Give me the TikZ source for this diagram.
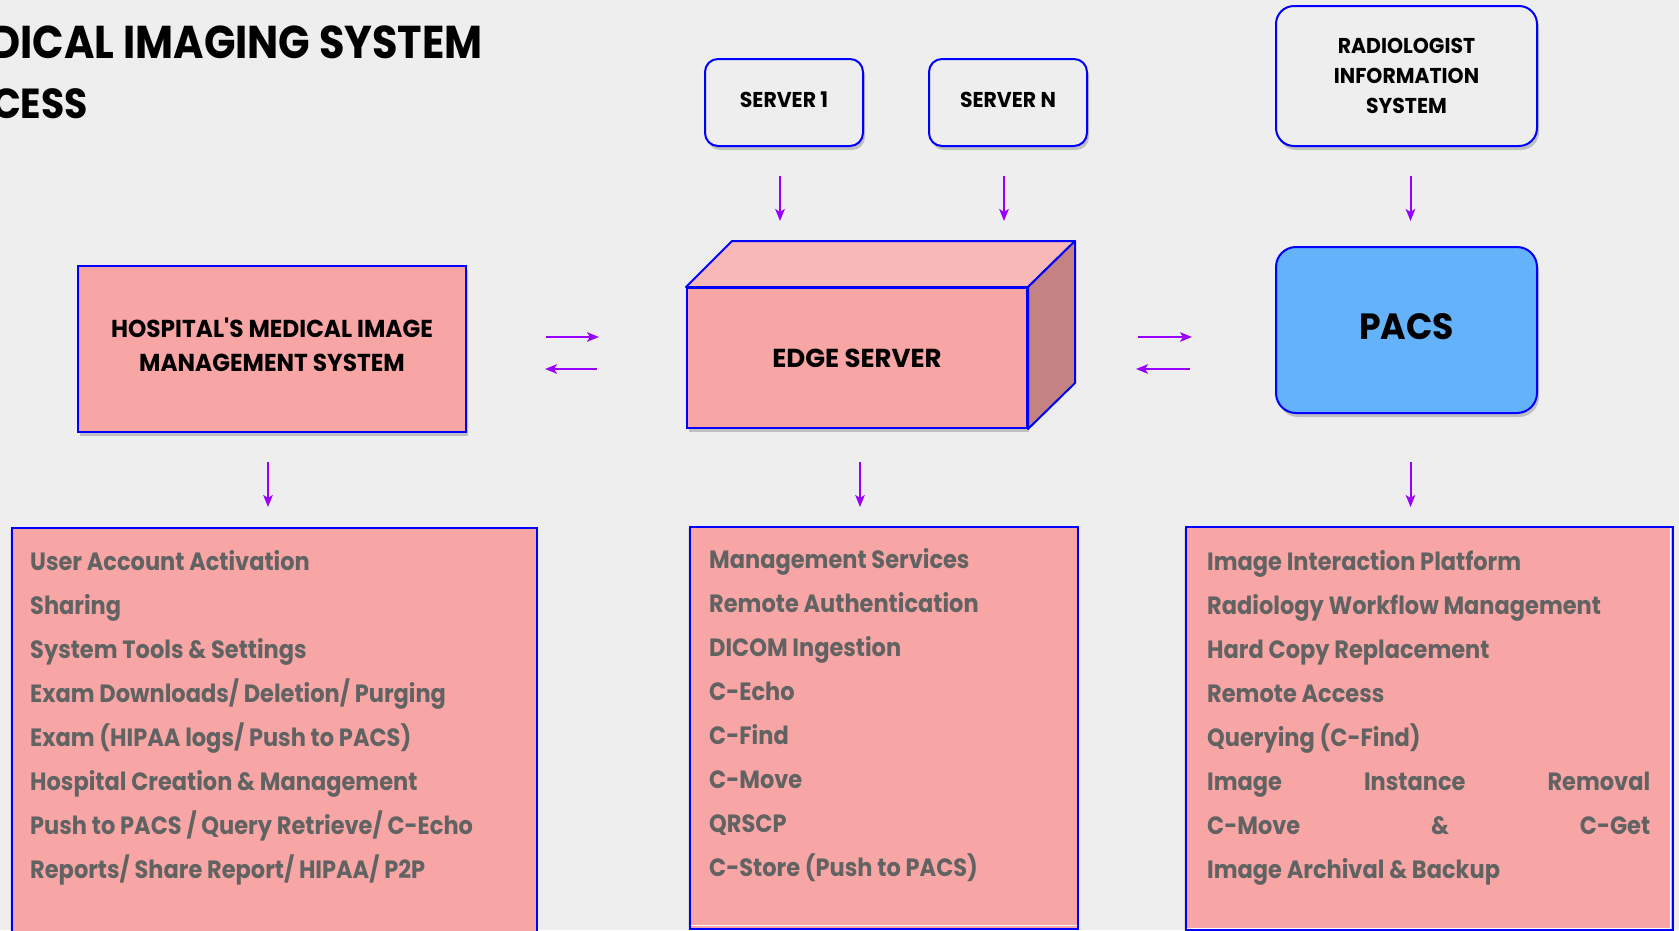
\documentclass[tikz,border=0pt]{standalone}
\usepackage{fontspec}
\setmainfont{Poppins}
\newfontfamily\gothic[FakeStretch=0.9]{Poppins}
\newfontfamily\labelfont[FakeStretch=0.95]{Poppins}
\usetikzlibrary{arrows.meta,shadows,calc}

\definecolor{canvas}{HTML}{EEEEEE}
\definecolor{edgeblue}{HTML}{0000FF}
\definecolor{pinkfill}{HTML}{F8A5A5}
\definecolor{pinktop}{HTML}{F8B8B8}
\definecolor{pinkside}{HTML}{C48282}
\definecolor{pacsblue}{HTML}{64B2F9}
\definecolor{flowviolet}{HTML}{9900FF}
\definecolor{itemgray}{HTML}{616363}

\tikzset{
  softshadow/.style={drop shadow={opacity=0.28, shadow xshift=2pt, shadow yshift=-4pt, fill=black!70}},
  roundbox/.style={draw=edgeblue, line width=2pt, fill=canvas, rounded corners=13pt,
    softshadow, align=center, font=\labelfont\bfseries, inner sep=0pt},
  listbox/.style={draw=edgeblue, line width=1.6pt, fill=pinkfill,
    drop shadow={opacity=0.18, shadow xshift=-2pt, shadow yshift=-1pt}},
  item/.style={anchor=base west, inner sep=0pt, text=itemgray,
    font=\gothic\bfseries\fontsize{25}{30}\selectfont},
  flow/.style={draw=flowviolet, line width=2pt,
    -{Stealth[length=12pt, width=9.5pt, inset=3pt]}},
}

\begin{document}
\begin{tikzpicture}[x=1pt, y=-1pt]
\fill[canvas] (0,0) rectangle (1679,930);
\useasboundingbox (0,0) rectangle (1679,930);
\clip (0,0) rectangle (1679,930);

% heading, running off the left edge
\node[anchor=base east, inner sep=0pt, font=\gothic\bfseries\fontsize{46}{52}\selectfont]
  (title1) at (483,58) {DICAL IMAGING SYSTEM};
\node[anchor=base east, inner sep=0pt, font=\gothic\bfseries\fontsize{42}{48}\selectfont]
  (title2) at (88,118) {CESS};

% source servers
\node[roundbox, minimum width=158pt, minimum height=87pt, text depth=5pt,
  font=\labelfont\bfseries\fontsize{21.5}{26}\selectfont]
  (s1) at (784,102.5) {SERVER 1};
\node[roundbox, minimum width=158pt, minimum height=87pt, text depth=5pt,
  font=\labelfont\bfseries\fontsize{21.5}{26}\selectfont]
  (sn) at (1008,102.5) {SERVER N};
\node[roundbox, rounded corners=18pt, minimum width=261pt, minimum height=140pt,
  font=\labelfont\bfseries\fontsize{21.5}{30}\selectfont]
  (ris) at (1406.5,76) {RADIOLOGIST\\INFORMATION\\SYSTEM};

% hospital system
\node[draw=edgeblue, line width=2pt, fill=pinkfill, softshadow, minimum width=388pt, minimum height=166pt,
  inner sep=0pt] (hosp) at (272,349) {};
\node[align=center, inner sep=0pt, font=\labelfont\bfseries\fontsize{24.5}{34}\selectfont]
  (hosplabel) at (272,345) {HOSPITAL'S MEDICAL IMAGE\\MANAGEMENT SYSTEM};

% PACS
\node[roundbox, fill=pacsblue, rounded corners=20pt, minimum width=261pt, minimum height=166pt,
  text depth=8pt, font=\labelfont\bfseries\fontsize{36.5}{40}\selectfont]
  (pacs) at (1406.5,330) {PACS};

% edge server drawn as a box in perspective
\node[draw=edgeblue, line width=2pt, fill=pinkfill, softshadow, minimum width=340pt, minimum height=140pt,
  inner sep=0pt, font=\bfseries\fontsize{26}{30}\selectfont]
  (edge) at (857,358) {EDGE SERVER};
\fill[pinktop, draw=edgeblue, line width=2pt, line join=round]
  (edge.north west) -- ++(46,-46) -- ($(edge.north east)+(47,-46)$) -- (edge.north east) -- cycle;
\fill[pinkside, draw=edgeblue, line width=2pt, line join=round]
  (edge.north east) -- ++(47,-46) -- ($(edge.south east)+(47,-46)$) -- (edge.south east) -- cycle;

% feature lists
\node[listbox, anchor=north west, minimum width=525pt, minimum height=420pt, inner sep=0pt] (hlist) at (11,527) {};
\node[listbox, anchor=north west, minimum width=388pt, minimum height=402pt, inner sep=0pt] (elist) at (689,526) {};
\node[listbox, anchor=north west, minimum width=487pt, minimum height=403pt, inner sep=0pt] (plist) at (1185,526) {};
\draw[white, line width=1pt] ($(elist.south west)+(1.5,-4)$) -- ($(elist.south east)+(-1.5,-4)$);
\draw[white, line width=1pt] ($(plist.north east)+(-3,2)$) -- ($(plist.south east)+(-3,-2)$)
  -- ($(plist.south west)+(2,-2)$);

\foreach \t [count=\i] in {User Account Activation, Sharing, System Tools \& Settings,
  Exam Downloads/ Deletion/ Purging, Exam (HIPAA logs/ Push to PACS),
  Hospital Creation \& Management, Push to PACS / Query Retrieve/ C-Echo,
  Reports/ Share Report/ HIPAA/ P2P}
  \node[item] (h\i) at (30,{570+44*(\i-1)}) {\t};

\foreach \t [count=\i] in {Management Services, Remote Authentication, DICOM Ingestion,
  C-Echo, C-Find, C-Move, QRSCP, C-Store (Push to PACS)}
  \node[item] (e\i) at (709,{568+44*(\i-1)}) {\t};

\foreach \t [count=\i] in {Image Interaction Platform, Radiology Workflow Management,
  Hard Copy Replacement, Remote Access, Querying (C-Find),
  \makebox[443pt][s]{Image\hfill Instance\hfill Removal},
  \makebox[443pt][s]{C-Move\hfill \&\hfill C-Get},
  Image Archival \& Backup}
  \node[item] (p\i) at (1207,{570+44*(\i-1)}) {\t};

% data flow
\draw[flow] ([shift={(-4,29)}]s1.south) -- ([shift={(-4,74)}]s1.south);
\draw[flow] ([shift={(-4,29)}]sn.south) -- ([shift={(-4,74)}]sn.south);
\draw[flow] ([shift={(4,29)}]ris.south) -- ([shift={(4,74)}]ris.south);

\draw[flow] ([shift={(79,-12)}]hosp.east) -- ([shift={(132,-12)}]hosp.east);
\draw[flow] ([shift={(-89,11)}]edge.west) -- ([shift={(-141,11)}]edge.west);
\draw[flow] ([shift={(110,-21)}]edge.east) -- ([shift={(164,-21)}]edge.east);
\draw[flow] ([shift={(-85,39)}]pacs.west) -- ([shift={(-139,39)}]pacs.west);

\draw[flow] ([shift={(-4,29)}]hosp.south) -- ([shift={(-4,74)}]hosp.south);
\draw[flow] ([shift={(3,33)}]edge.south) -- ([shift={(3,78)}]edge.south);
\draw[flow] ([shift={(4,48)}]pacs.south) -- ([shift={(4,93)}]pacs.south);
\end{tikzpicture}
\end{document}
